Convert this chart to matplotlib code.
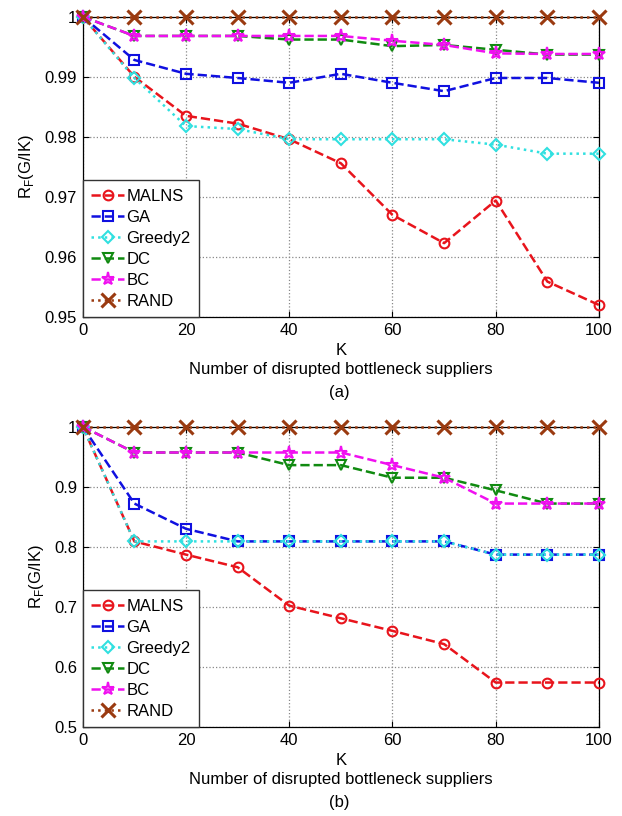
import matplotlib.pyplot as plt
import numpy as np
from matplotlib.ticker import FormatStrFormatter

plt.rcParams['font.family'] = ['Liberation Sans', 'DejaVu Sans']
plt.rcParams['mathtext.fontset'] = 'custom'
plt.rcParams['mathtext.rm'] = 'Liberation Sans'

# Number of disrupted bottleneck suppliers
K = [0, 10, 20, 30, 40, 50, 60, 70, 80, 90, 100]
labels = ['MALNS', 'GA', 'Greedy2', 'DC', 'BC', 'RAND']

# (a) R_F(G/IK) per method
malns_a = [1.0, 0.990, 0.9835, 0.9822, 0.9796, 0.9756, 0.9670, 0.9623, 0.9694, 0.9559, 0.9520]
ga_a = [1.0, 0.9928, 0.9905, 0.9898, 0.9890, 0.9905, 0.9890, 0.9876, 0.9898, 0.9898, 0.9890]
greedy2_a = [1.0, 0.9898, 0.9818, 0.9813, 0.9796, 0.9796, 0.9796, 0.9796, 0.9787, 0.9772, 0.9772]
dc_a = [1.0, 0.9968, 0.9968, 0.9968, 0.9962, 0.9962, 0.9951, 0.9953, 0.9945, 0.9937, 0.9937]
bc_a = [1.0, 0.9968, 0.9968, 0.9968, 0.9968, 0.9968, 0.9960, 0.9953, 0.9939, 0.9938, 0.9938]
rand_a = [1.0] * 11

# (b) R_F(G/IK) per method
malns_b = [1.0, 0.809, 0.787, 0.766, 0.702, 0.681, 0.660, 0.638, 0.574, 0.574, 0.574]
ga_b = [1.0, 0.872, 0.830, 0.809, 0.809, 0.809, 0.809, 0.809, 0.787, 0.787, 0.787]
greedy2_b = [1.0, 0.809, 0.809, 0.809, 0.809, 0.809, 0.809, 0.809, 0.787, 0.787, 0.787]
dc_b = [1.0, 0.957, 0.957, 0.957, 0.936, 0.936, 0.915, 0.915, 0.894, 0.872, 0.872]
bc_b = [1.0, 0.957, 0.957, 0.957, 0.957, 0.957, 0.936, 0.915, 0.872, 0.872, 0.872]
rand_b = [1.0] * 11

styles = [
    dict(color='#e8141c', ls='--', marker='o'),
    dict(color='#1010e0', ls='--', marker='s'),
    dict(color='#30e0e0', ls=':', marker='D', ms=6),
    dict(color='#108a10', ls='--', marker='v'),
    dict(color='#f010f0', ls='--', marker='*', ms=9.5),
    dict(color='#9a3a10', ls=':', marker='x', ms=10, mew=2.2),
]

fig = plt.figure(figsize=(6.22, 8.16), dpi=100)
ax_a = fig.add_axes([0.133, 0.6115, 0.830, 0.368])
ax_b = fig.add_axes([0.133, 0.1091, 0.830, 0.368])


def draw(ax, series, ylim, yticks, tag, tag_y):
    for vals, lab, st in zip(series, labels, styles):
        kw = dict(lw=1.8, ms=7, mfc='none', mew=1.5)
        kw.update(st)
        ax.plot(K, vals, label=lab, clip_on=False, zorder=3, **kw)
    ax.set_xlim(0, 100)
    ax.set_ylim(*ylim)
    ax.set_xticks(np.arange(0, 101, 20))
    ax.set_yticks(yticks)
    ax.yaxis.set_major_formatter(FormatStrFormatter('%g'))
    ax.grid(True, ls=':', color='#888888', lw=0.9)
    ax.tick_params(direction='in', top=True, right=True, labelsize=12, pad=4, length=4)
    for sp in ax.spines.values():
        sp.set_linewidth(0.9)
    ax.set_xlabel('K\nNumber of disrupted bottleneck suppliers', fontsize=12,
                  labelpad=4, linespacing=1.35)
    ax.set_ylabel(r'R$_\mathrm{F}$(G/IK)', fontsize=12, labelpad=6)
    ax.legend(loc='lower left', fontsize=12, borderaxespad=0, fancybox=False,
              edgecolor='#333333', framealpha=1, handlelength=2.0,
              handletextpad=0.12, labelspacing=0.36, borderpad=0.5)
    fig.text(0.545, tag_y, tag, ha='center', va='center', fontsize=12)


draw(ax_a, [malns_a, ga_a, greedy2_a, dc_a, bc_a, rand_a], (0.95, 1.0),
     [0.95, 0.96, 0.97, 0.98, 0.99, 1.0], '(a)', 1 - 392 / 816)
draw(ax_b, [malns_b, ga_b, greedy2_b, dc_b, bc_b, rand_b], (0.5, 1.0),
     [0.5, 0.6, 0.7, 0.8, 0.9, 1.0], '(b)', 1 - 802 / 816)

fig.savefig('out.png', dpi=100)
